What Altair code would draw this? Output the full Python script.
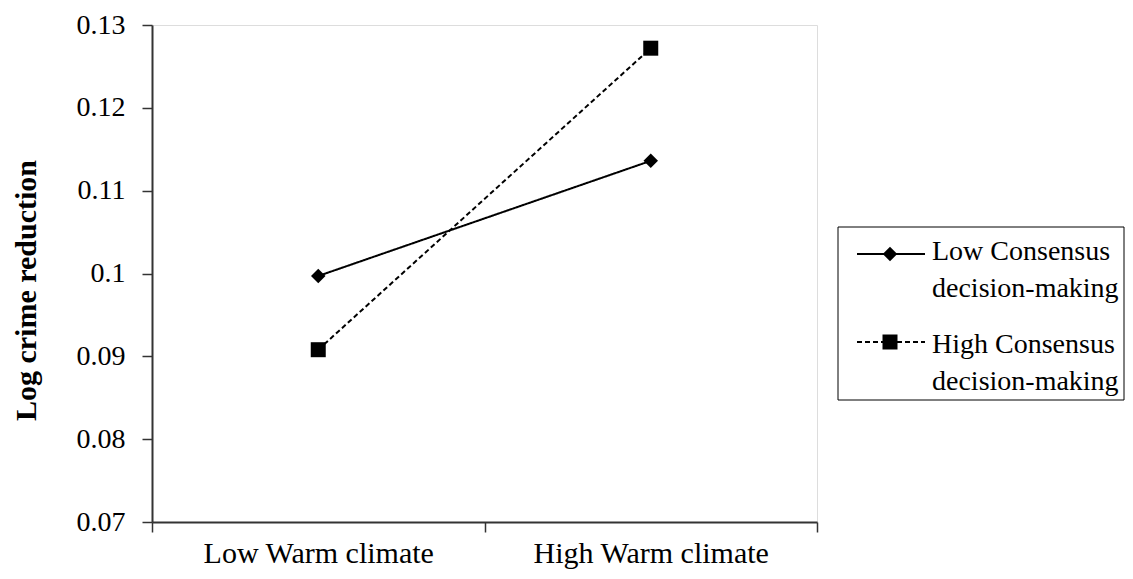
import altair as alt
import pandas as pd

# ---- data ----
climate = ["Low Warm climate", "High Warm climate"]
series = ["Low Consensus decision-making", "High Consensus decision-making"]
low_consensus = [0.0997, 0.1136]
high_consensus = [0.0908, 0.1272]
y_ticks = [0.07, 0.08, 0.09, 0.10, 0.11, 0.12, 0.13]
legend_lines = ["Low Consensus\ndecision-making", "High Consensus\ndecision-making"]

rows = []
for s, vals in zip(series, [low_consensus, high_consensus]):
    for c, v in zip(climate, vals):
        rows.append({"climate": c, "series": s, "value": v})
df = pd.DataFrame(rows)

FONT = "'Liberation Serif', 'DejaVu Serif', serif"
W, H = 665, 497
TOP = 17
AX = "#333333"

x_enc = alt.X(
    "climate:N", sort=climate, title=None,
    scale=alt.Scale(type="band", domain=climate, paddingInner=0, paddingOuter=0),
    axis=alt.Axis(labelAngle=0, tickBand="extent", labelFont=FONT, labelFontSize=30,
                  labelFontWeight="normal", labelLimit=0, labelColor="black",
                  labelPadding=6, tickSize=10, tickColor=AX, tickWidth=1.5,
                  domainColor=AX, domainWidth=2, grid=False),
)
y_enc = alt.Y(
    "value:Q", title="Log crime reduction",
    scale=alt.Scale(domain=[0.07, 0.13], nice=False, zero=False),
    axis=alt.Axis(values=y_ticks, format=".2~f", grid=False, labelFont=FONT,
                  labelFontSize=28, labelFontWeight="normal", labelColor="black",
                  labelPadding=17, tickSize=10, tickColor=AX, tickWidth=1.5,
                  domainColor=AX, domainWidth=2,
                  titleFont=FONT, titleFontSize=30, titleFontWeight="bold",
                  titleColor="black", titleX=-126, titleY=265, titleAngle=270,
                  titleAlign="center", titleBaseline="middle", titleLimit=0),
)

dash_scale = alt.Scale(domain=series, range=[[1, 0], [5, 3]])
shape_scale = alt.Scale(domain=series, range=["diamond", "square"])
size_scale = alt.Scale(domain=series, range=[210, 225])

base = alt.Chart(df)
lines = base.mark_line(color="black", strokeWidth=2).encode(
    x=x_enc, y=y_enc,
    strokeDash=alt.StrokeDash("series:N", scale=dash_scale, legend=None),
    detail="series:N",
)
points = base.mark_point(filled=True, color="black", opacity=1).encode(
    x=x_enc, y=y_enc,
    shape=alt.Shape("series:N", scale=shape_scale, legend=None),
    size=alt.Size("series:N", scale=size_scale, legend=None),
)

# legend drawn by hand (offsets relative to the plot's top-left corner)
dy = 20 - (TOP + 8)
one = alt.Chart(pd.DataFrame({"k": [0]}))
box = one.mark_rect(fill="white", stroke="black", strokeWidth=1).encode(
    x=alt.value(686), x2=alt.value(972), y=alt.value(207 + dy), y2=alt.value(380 + dy))
leg_solid = one.mark_rule(color="black", strokeWidth=2).encode(
    x=alt.value(705), x2=alt.value(773), y=alt.value(234 + dy))
leg_dash = one.mark_rule(color="black", strokeWidth=2, strokeDash=[5, 3]).encode(
    x=alt.value(705), x2=alt.value(773), y=alt.value(322 + dy))
leg_dia = one.mark_point(shape="diamond", filled=True, color="black", opacity=1, size=210).encode(
    x=alt.value(738), y=alt.value(234 + dy))
leg_sq = one.mark_point(shape="square", filled=True, color="black", opacity=1, size=225).encode(
    x=alt.value(738), y=alt.value(322 + dy))
leg_t1 = one.mark_text(align="left", baseline="alphabetic", font=FONT, fontSize=28,
                       fontWeight="normal", color="black", lineBreak="\n", lineHeight=37).encode(
    x=alt.value(780), y=alt.value(240 + dy), text=alt.value(legend_lines[0]))
leg_t2 = one.mark_text(align="left", baseline="alphabetic", font=FONT, fontSize=28,
                       fontWeight="normal", color="black", lineBreak="\n", lineHeight=37).encode(
    x=alt.value(780), y=alt.value(333 + dy), text=alt.value(legend_lines[1]))

chart = alt.layer(
    lines, points, box, leg_solid, leg_dash, leg_dia, leg_sq, leg_t1, leg_t2
).properties(
    width=W, height=H,
    autosize=alt.AutoSizeParams(type="none"),
    padding={"left": 144, "top": TOP, "right": 308, "bottom": 49},
).configure_view(
    stroke="#8c8c8c", strokeWidth=2
).configure(background="white", font=FONT)

chart.save("out.html", embed_options={"renderer": "svg", "actions": False})
